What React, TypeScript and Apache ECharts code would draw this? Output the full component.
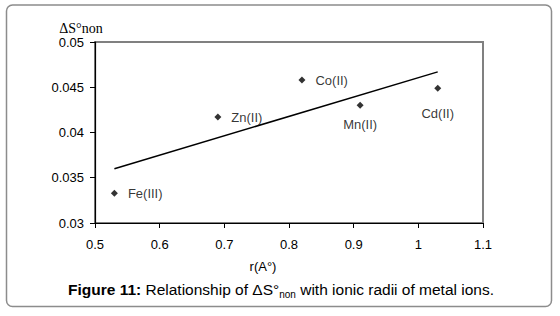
import React, { useEffect, useRef } from "react";
import * as echarts from "echarts";

// Data
const ions = ["Fe(III)", "Zn(II)", "Co(II)", "Mn(II)", "Cd(II)"];
const radii = [0.53, 0.69, 0.82, 0.91, 1.03];
const entropy = [0.0333, 0.0417, 0.0458, 0.043, 0.0449];
const trendX = [0.53, 1.03];
const trendY = [0.036, 0.0467];

const xTicks = { min: 0.5, max: 1.1, interval: 0.1 };
const yTicks = { min: 0.03, max: 0.05, interval: 0.005 };

const yName = "ΔS°non";
const xName = "r(A°)";

const FONT = "Arial, 'Liberation Sans', sans-serif";

export default function App() {
  const ref = useRef<HTMLDivElement>(null);

  useEffect(() => {
    if (!ref.current) return;
    const chart = echarts.init(ref.current, undefined, { renderer: "svg" });

    const labelCfg = (i: number) => {
      const name = ions[i];
      if (name === "Mn(II)") return { position: "bottom", distance: 9 };
      if (name === "Cd(II)") return { position: "bottom", distance: 15 };
      return { position: "right", distance: 10 };
    };

    const scatterData = radii.map((r, i) => ({
      value: [r, entropy[i]],
      name: ions[i],
      label: {
        show: true,
        formatter: ions[i],
        color: "#000",
        fontFamily: FONT,
        fontSize: 13,
        ...labelCfg(i),
      },
    }));

    const trendData = trendX.map((x, i) => [x, trendY[i]]);

    chart.setOption({
      animation: false,
      backgroundColor: "#fff",
      grid: {
        left: 95,
        top: 42,
        width: 388,
        height: 181,
        show: true,
        borderColor: "#808080",
        borderWidth: 2,
        backgroundColor: "transparent",
        containLabel: false,
      },
      xAxis: {
        type: "value",
        min: xTicks.min,
        max: xTicks.max,
        interval: xTicks.interval,
        axisLine: { show: true, onZero: false, lineStyle: { color: "#000", width: 1.2 } },
        axisTick: { show: true, inside: false, length: 5, lineStyle: { color: "#000", width: 1 } },
        axisLabel: { color: "#000", fontFamily: FONT, fontSize: 13, margin: 15 },
        splitLine: { show: false },
      },
      yAxis: {
        type: "value",
        min: yTicks.min,
        max: yTicks.max,
        interval: yTicks.interval,
        axisLine: { show: true, onZero: false, lineStyle: { color: "#000", width: 1.2 } },
        axisTick: { show: true, inside: false, length: 5, lineStyle: { color: "#000", width: 1 } },
        axisLabel: { color: "#000", fontFamily: FONT, fontSize: 13, margin: 11 },
        splitLine: { show: false },
      },
      series: [
        {
          type: "line",
          data: trendData,
          showSymbol: false,
          symbol: "none",
          lineStyle: { color: "#000", width: 1.5 },
          silent: true,
          z: 2,
        },
        {
          type: "scatter",
          data: scatterData,
          symbol: "diamond",
          symbolSize: 7,
          itemStyle: { color: "#000" },
          z: 3,
        },
      ],
      graphic: [
        {
          type: "rect",
          shape: { x: 6.5, y: 5, width: 545, height: 301.5, r: 6 },
          style: { fill: "none", stroke: "#8c8c8c", lineWidth: 1.5 },
          silent: true,
          z: -1,
        },
        {
          type: "text",
          x: 81,
          y: 28,
          style: {
            text: yName,
            fontFamily: "'Liberation Serif', 'Times New Roman', serif",
            fontSize: 14,
            fill: "#000",
            align: "center",
            verticalAlign: "middle",
          },
        },
        {
          type: "text",
          x: 263,
          y: 266,
          style: {
            text: xName,
            fontFamily: FONT,
            fontSize: 13,
            fill: "#000",
            align: "center",
            verticalAlign: "middle",
          },
        },
        {
          type: "text",
          x: 281,
          y: 290,
          style: {
            text: "{b|Figure 11:}{n| Relationship of ΔS°}{s|non}{n| with ionic radii of metal ions.}",
            align: "center",
            verticalAlign: "middle",
            fill: "#000",
            rich: {
              b: { fontFamily: FONT, fontSize: 15.5, fontWeight: "bold", lineHeight: 18, verticalAlign: "top", fill: "#000" },
              n: { fontFamily: FONT, fontSize: 15.5, lineHeight: 18, verticalAlign: "top", fill: "#000" },
              s: { fontFamily: FONT, fontSize: 10, lineHeight: 6, verticalAlign: "bottom", fill: "#000" },
            },
          },
        },
      ],
    });

    return () => chart.dispose();
  }, []);

  return (
    <div
      ref={ref}
      style={{ position: "absolute", left: 0, top: 0, width: 560, height: 316 }}
    />
  );
}
